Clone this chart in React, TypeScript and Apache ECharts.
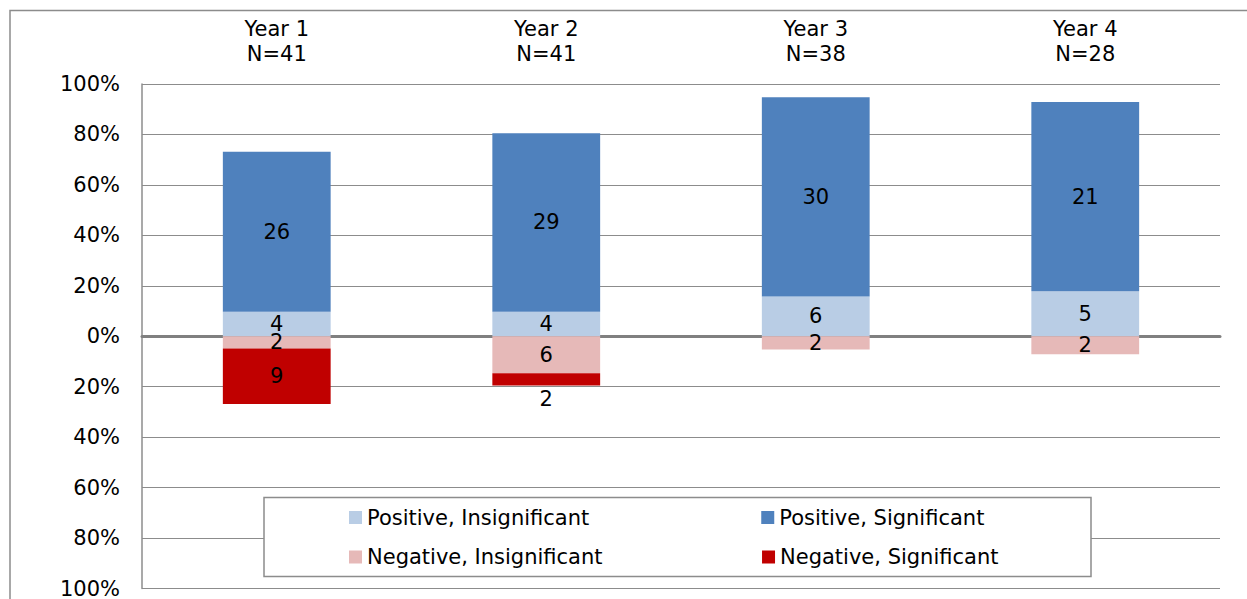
import React, { useEffect, useRef } from "react";
import * as echarts from "echarts";

const years = ["Year 1", "Year 2", "Year 3", "Year 4"];
const totals = [41, 41, 38, 28];
const posInsig = [4, 4, 6, 5];
const posSig = [26, 29, 30, 21];
const negInsig = [2, 6, 2, 2];
const negSig = [9, 2, 0, 0];
const yTicks = [-100, -80, -60, -40, -20, 0, 20, 40, 60, 80, 100];

const FONT = "DejaVu Sans";

export default function App() {
  const ref = useRef<HTMLDivElement>(null);
  useEffect(() => {
    document.body.style.margin = "0";
    if (!ref.current) return;
    const chart = echarts.init(ref.current, undefined, { renderer: "svg" });

    const mk = (name: string, counts: number[], sign: number, color: string, labelPos?: (i: number) => string) => ({
      name,
      type: "bar",
      stack: "all",
      barWidth: "40%",
      itemStyle: { color },
      data: counts.map((c, i) => ({
        value: counts[i] === 0 ? null : (sign * c * 100) / totals[i],
        label: labelPos ? { position: labelPos(i), distance: 3 } : undefined,
      })),
      label: {
        show: true,
        position: "inside",
        color: "#000",
        fontFamily: FONT,
        fontSize: 21,
        formatter: (p: any) => (counts[p.dataIndex] ? String(counts[p.dataIndex]) : ""),
      },
    });

    chart.setOption({
      animation: false,
      textStyle: { fontFamily: FONT },
      grid: { left: 142, right: 27, top: 84, bottom: 8, containLabel: false },
      xAxis: [
        {
          type: "category",
          data: years,
          position: "top",
          axisLine: { show: false, onZero: false },
          axisTick: { show: false },
          axisLabel: {
            margin: 18,
            fontFamily: FONT,
            fontSize: 21,
            lineHeight: 25,
            color: "#000",
            formatter: (v: string, i: number) => `${v}\nN=${totals[i]}`,
          },
        },
        {
          type: "category",
          data: years,
          position: "bottom",
          axisLine: { show: true, onZero: true, lineStyle: { color: "#808080", width: 3 } },
          axisTick: { show: false },
          axisLabel: { show: false },
        },
      ],
      yAxis: {
        type: "value",
        min: yTicks[0],
        max: yTicks[yTicks.length - 1],
        interval: 20,
        axisLine: { show: true, lineStyle: { color: "#8c8c8c", width: 1.5 } },
        axisTick: { show: false },
        splitLine: { show: true, lineStyle: { color: "#8c8c8c", width: 1 } },
        axisLabel: {
          margin: 22,
          fontFamily: FONT,
          fontSize: 21,
          color: "#000",
          formatter: (v: number) => `${Math.abs(Math.round(v))}%`,
        },
      },
      legend: [
        {
          data: ["Positive, Insignificant", "Positive, Significant"],
          left: 349,
          top: 505.5,
          padding: 0,
          orient: "horizontal",
          icon: "rect",
          itemWidth: 13,
          itemHeight: 13,
          itemGap: 172,
          selectedMode: false,
          z: 6,
          textStyle: { fontFamily: FONT, fontSize: 21, color: "#000", lineHeight: 24 },
        },
        {
          data: ["Negative, Insignificant", "Negative, Significant"],
          left: 349,
          top: 545,
          padding: 0,
          orient: "horizontal",
          icon: "rect",
          itemWidth: 13,
          itemHeight: 13,
          itemGap: 159.5,
          selectedMode: false,
          z: 6,
          textStyle: { fontFamily: FONT, fontSize: 21, color: "#000", lineHeight: 24 },
        },
      ],
      graphic: [
        {
          type: "rect",
          z: 1,
          silent: true,
          shape: { x: 10, y: 10.5, width: 1260, height: 620 },
          style: { fill: "none", stroke: "#8c8c8c", lineWidth: 1.5 },
        },
        {
          type: "rect",
          z: 5,
          silent: true,
          shape: { x: 264, y: 497.5, width: 827, height: 79 },
          style: { fill: "#fff", stroke: "#8c8c8c", lineWidth: 1.5 },
        },
      ],
      series: [
        mk("Positive, Insignificant", posInsig, 1, "#B9CDE5"),
        mk("Positive, Significant", posSig, 1, "#4F81BD"),
        mk("Negative, Insignificant", negInsig, -1, "#E6B9B8"),
        mk("Negative, Significant", negSig, -1, "#C00000", (i) => (i === 1 ? "bottom" : "inside")),
      ],
    });
    return () => chart.dispose();
  }, []);
  return <div ref={ref} style={{ width: 1247, height: 599 }} />;
}
